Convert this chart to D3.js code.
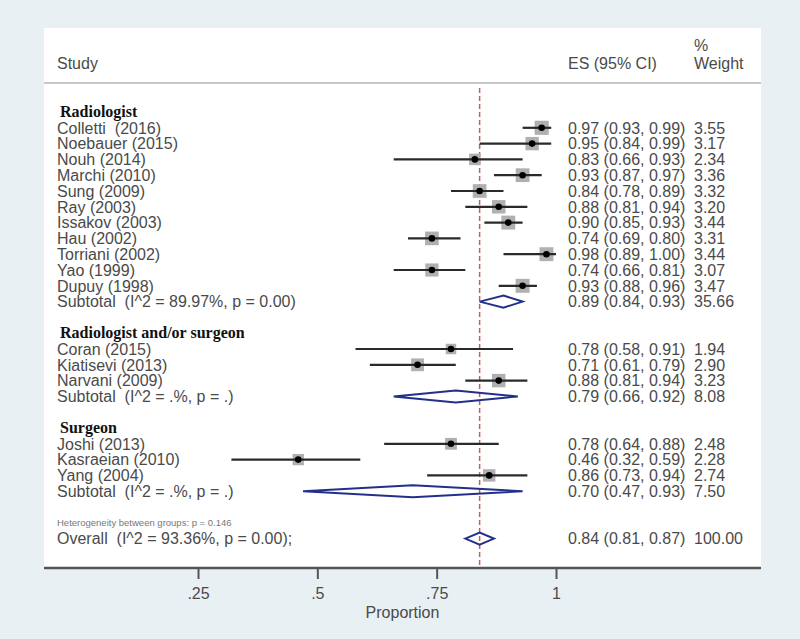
<!DOCTYPE html>
<html>
<head>
<meta charset="utf-8">
<script src="https://cdn.jsdelivr.net/npm/d3@7"></script>
<style>
  html, body { margin: 0; padding: 0; background: #e8f0f3; }
  svg { display: block; }
  text { white-space: pre; }
</style>
</head>
<body>
<svg id="chart" width="800" height="639"></svg>
<script>
// ---------- DATA ----------
const groupNames = ["Radiologist", "Radiologist and/or surgeon", "Surgeon"];

const studyLabels = [
  "Colletti  (2016)", "Noebauer (2015)", "Nouh (2014)", "Marchi (2010)", "Sung (2009)",
  "Ray (2003)", "Issakov (2003)", "Hau (2002)", "Torriani (2002)", "Yao (1999)", "Dupuy (1998)",
  "Coran (2015)", "Kiatisevi (2013)", "Narvani (2009)",
  "Joshi (2013)", "Kasraeian (2010)", "Yang (2004)"
];
const studyGroup = [0,0,0,0,0,0,0,0,0,0,0, 1,1,1, 2,2,2];
const studyES  = [0.97, 0.95, 0.83, 0.93, 0.84, 0.88, 0.90, 0.74, 0.98, 0.74, 0.93, 0.78, 0.71, 0.88, 0.78, 0.46, 0.86];
const studyLo  = [0.93, 0.84, 0.66, 0.87, 0.78, 0.81, 0.85, 0.69, 0.89, 0.66, 0.88, 0.58, 0.61, 0.81, 0.64, 0.32, 0.73];
const studyHi  = [0.99, 0.99, 0.93, 0.97, 0.89, 0.94, 0.93, 0.80, 1.00, 0.81, 0.96, 0.91, 0.79, 0.94, 0.88, 0.59, 0.94];
const studyWeight = [3.55, 3.17, 2.34, 3.36, 3.32, 3.20, 3.44, 3.31, 3.44, 3.07, 3.47, 1.94, 2.90, 3.23, 2.48, 2.28, 2.74];

const subtotalLabels = [
  "Subtotal  (I^2 = 89.97%, p = 0.00)",
  "Subtotal  (I^2 = .%, p = .)",
  "Subtotal  (I^2 = .%, p = .)"
];
const subtotalES = [0.89, 0.79, 0.70];
const subtotalLo = [0.84, 0.66, 0.47];
const subtotalHi = [0.93, 0.92, 0.93];
const subtotalWeight = [35.66, 8.08, 7.50];

const heterogeneityText = "Heterogeneity between groups: p = 0.146";
const overallLabel = "Overall  (I^2 = 93.36%, p = 0.00);";
const overallES = 0.84, overallLo = 0.81, overallHi = 0.87, overallWeight = 100.00;

const xTicks = [0.25, 0.5, 0.75, 1];
const xTickLabels = [".25", ".5", ".75", "1"];
const xTitle = "Proportion";

// ---------- LAYOUT ----------
const svg = d3.select("#chart");
const panel = { left: 44, right: 761, top: 28, bottom: 568 };
const fmt = d3.format(".2f");
const textFont = "'Liberation Sans', Arial, sans-serif";
const textColor = "#4a4a4a";

// build row list
const rows = [];
groupNames.forEach((g, gi) => {
  rows.push({ type: "group", label: g });
  studyLabels.forEach((s, i) => {
    if (studyGroup[i] === gi) rows.push({ type: "study", label: s, es: studyES[i], lo: studyLo[i], hi: studyHi[i], w: studyWeight[i] });
  });
  rows.push({ type: "subtotal", label: subtotalLabels[gi], es: subtotalES[gi], lo: subtotalLo[gi], hi: subtotalHi[gi], w: subtotalWeight[gi] });
  if (gi < groupNames.length - 1) rows.push({ type: "blank" });
});
rows.push({ type: "blank" });
rows.push({ type: "het", label: heterogeneityText });
rows.push({ type: "overall", label: overallLabel, es: overallES, lo: overallLo, hi: overallHi, w: overallWeight });
rows.forEach((r, i) => r.idx = i);

const y = d3.scaleLinear().domain([0, rows.length - 1]).range([112, 112 + (rows.length - 1) * 15.8]);
const x = d3.scaleLinear().domain([0.25, 1]).range([198, 556]);

// panel
svg.append("rect").attr("x", panel.left).attr("y", panel.top)
  .attr("width", panel.right - panel.left).attr("height", panel.bottom - panel.top)
  .attr("fill", "#ffffff");

// header
const hdr = svg.append("g").attr("font-family", textFont).attr("font-size", 16).attr("fill", textColor);
hdr.append("text").attr("x", 57).attr("y", 63).attr("dy", "0.36em").text("Study");
hdr.append("text").attr("x", 568).attr("y", 63).attr("dy", "0.36em").text("ES (95% CI)");
hdr.append("text").attr("x", 694).attr("y", 45).attr("dy", "0.36em").text("%");
hdr.append("text").attr("x", 694).attr("y", 63).attr("dy", "0.36em").text("Weight");
svg.append("line").attr("x1", panel.left).attr("x2", panel.right).attr("y1", 83).attr("y2", 83)
  .attr("stroke", "#c8c8c8").attr("stroke-width", 2);

// reference dashed line at overall estimate
svg.append("line").attr("x1", x(overallES)).attr("x2", x(overallES))
  .attr("y1", 88).attr("y2", panel.bottom)
  .attr("stroke", "#c0605f").attr("stroke-width", 1.5).attr("stroke-dasharray", "5,3");

// blur filter for weight squares
const defs = svg.append("defs");
defs.append("filter").attr("id", "soft").append("feGaussianBlur").attr("stdDeviation", 0.7);

// left labels
const labels = svg.append("g");
rows.forEach(r => {
  if (r.type === "group") {
    labels.append("text").attr("x", 60).attr("y", y(r.idx)).attr("dy", "0.3em")
      .attr("font-family", "'Liberation Serif', 'Times New Roman', serif").attr("font-weight", "bold")
      .attr("font-size", 16).attr("fill", "#111").text(r.label);
  } else if (r.type === "het") {
    labels.append("text").attr("x", 57).attr("y", y(r.idx)).attr("dy", "0.36em")
      .attr("font-family", textFont).attr("font-size", 9.5).attr("fill", "#777").text(r.label);
  } else if (r.type !== "blank") {
    labels.append("text").attr("x", 57).attr("y", y(r.idx)).attr("dy", "0.36em")
      .attr("font-family", textFont).attr("font-size", 16).attr("fill", textColor).text(r.label);
    labels.append("text").attr("x", 568).attr("y", y(r.idx)).attr("dy", "0.36em")
      .attr("font-family", textFont).attr("font-size", 16).attr("fill", textColor)
      .text(`${fmt(r.es)} (${fmt(r.lo)}, ${fmt(r.hi)})`);
    labels.append("text").attr("x", 694).attr("y", y(r.idx)).attr("dy", "0.36em")
      .attr("font-family", textFont).attr("font-size", 16).attr("fill", textColor)
      .text(fmt(r.w));
  }
});

// study markers
const studies = rows.filter(r => r.type === "study");
const sq = d3.scaleSqrt().domain([0, 4]).range([0, 15]);
svg.append("g").selectAll("rect").data(studies).join("rect")
  .attr("x", d => x(d.es) - sq(d.w) / 2).attr("y", d => y(d.idx) - sq(d.w) / 2)
  .attr("width", d => sq(d.w)).attr("height", d => sq(d.w))
  .attr("fill", "#b0b0b0").attr("filter", "url(#soft)");
svg.append("g").selectAll("line").data(studies).join("line")
  .attr("x1", d => x(d.lo)).attr("x2", d => x(d.hi))
  .attr("y1", d => y(d.idx)).attr("y2", d => y(d.idx))
  .attr("stroke", "#2a2a2a").attr("stroke-width", 2.2);
svg.append("g").selectAll("circle").data(studies).join("circle")
  .attr("cx", d => x(d.es)).attr("cy", d => y(d.idx)).attr("r", 3.3)
  .attr("fill", "#000");

// diamonds
const pooled = rows.filter(r => r.type === "subtotal" || r.type === "overall");
svg.append("g").selectAll("path").data(pooled).join("path")
  .attr("d", d => {
    const cy = y(d.idx), h = 6;
    return `M${x(d.lo)},${cy}L${x(d.es)},${cy - h}L${x(d.hi)},${cy}L${x(d.es)},${cy + h}Z`;
  })
  .attr("fill", "none").attr("stroke", "#23308a").attr("stroke-width", 2);

// x axis
const axisG = svg.append("g").attr("transform", `translate(0,${panel.bottom})`)
  .call(d3.axisBottom(x).tickValues(xTicks).tickSize(11).tickPadding(9)
    .tickFormat((d, i) => xTickLabels[i]));
axisG.select(".domain").remove();
axisG.selectAll(".tick line").attr("stroke", "#555").attr("stroke-width", 2);
axisG.selectAll(".tick text").attr("font-family", textFont).attr("font-size", 16).attr("fill", textColor);
svg.append("line").attr("x1", panel.left).attr("x2", panel.right)
  .attr("y1", panel.bottom).attr("y2", panel.bottom)
  .attr("stroke", "#555").attr("stroke-width", 2.5);
svg.append("text").attr("x", (panel.left + panel.right) / 2).attr("y", 612).attr("dy", "0.36em")
  .attr("text-anchor", "middle").attr("font-family", textFont).attr("font-size", 16)
  .attr("fill", textColor).text(xTitle);
</script>
</body>
</html>
